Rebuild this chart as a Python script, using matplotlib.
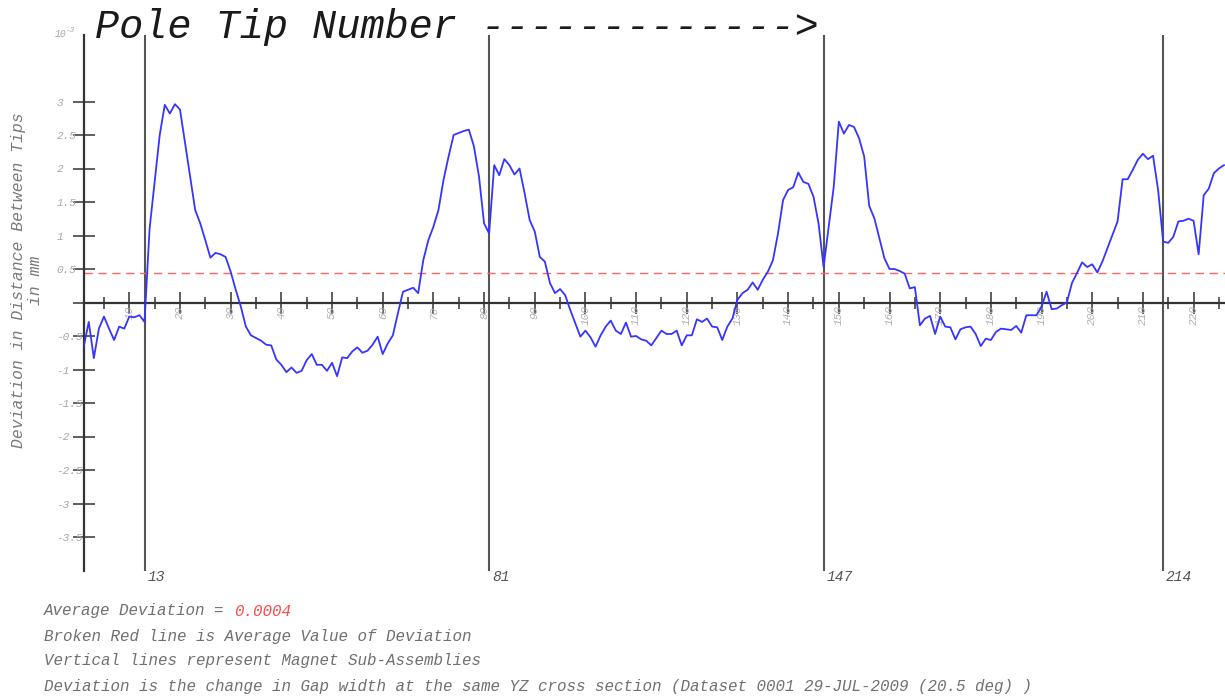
import numpy as np
import matplotlib
matplotlib.use("Agg")
import matplotlib.pyplot as plt
from matplotlib.ticker import MultipleLocator

################################################
## DATA
################################################
pole_tip = np.arange(1, 227)
deviation = [
    -0.66, -0.29, -0.83, -0.39, -0.21, -0.39, -0.56, -0.36, -0.39, -0.21,
    -0.22, -0.19, -0.29, 1.10, 1.80, 2.50, 2.95, 2.82, 2.96, 2.88,
    2.38, 1.88, 1.38, 1.18, 0.93, 0.67, 0.74, 0.72, 0.68, 0.46,
    0.19, -0.06, -0.36, -0.49, -0.53, -0.57, -0.63, -0.64, -0.85, -0.93,
    -1.04, -0.97, -1.05, -1.02, -0.86, -0.77, -0.93, -0.93, -1.02, -0.90,
    -1.10, -0.82, -0.83, -0.73, -0.67, -0.75, -0.72, -0.63, -0.51, -0.77,
    -0.61, -0.49, -0.16, 0.16, 0.19, 0.22, 0.14, 0.63, 0.93, 1.13,
    1.38, 1.83, 2.18, 2.50, 2.53, 2.56, 2.58, 2.33, 1.88, 1.18,
    1.03, 2.05, 1.90, 2.14, 2.05, 1.91, 2.00, 1.63, 1.23, 1.06,
    0.68, 0.61, 0.29, 0.14, 0.20, 0.11, -0.11, -0.31, -0.51, -0.42,
    -0.52, -0.66, -0.49, -0.36, -0.27, -0.42, -0.47, -0.30, -0.51, -0.50,
    -0.55, -0.57, -0.64, -0.53, -0.42, -0.47, -0.47, -0.42, -0.64, -0.49,
    -0.49, -0.25, -0.29, -0.24, -0.36, -0.37, -0.56, -0.36, -0.24, 0.04,
    0.14, 0.19, 0.30, 0.19, 0.34, 0.46, 0.63, 1.03, 1.53, 1.68,
    1.72, 1.94, 1.80, 1.77, 1.58, 1.18, 0.53, 1.13, 1.73, 2.70,
    2.52, 2.65, 2.62, 2.45, 2.18, 1.44, 1.26, 0.96, 0.66, 0.50,
    0.50, 0.47, 0.43, 0.21, 0.23, -0.34, -0.24, -0.20, -0.47, -0.21,
    -0.36, -0.37, -0.55, -0.40, -0.37, -0.36, -0.47, -0.65, -0.54, -0.56,
    -0.44, -0.39, -0.40, -0.41, -0.35, -0.45, -0.19, -0.19, -0.19, -0.06,
    0.16, -0.10, -0.09, -0.04, 0.00, 0.29, 0.44, 0.60, 0.53, 0.57,
    0.45, 0.61, 0.81, 1.01, 1.21, 1.84, 1.84, 1.98, 2.13, 2.22,
    2.14, 2.19, 1.68, 0.91, 0.89, 0.98, 1.21, 1.22, 1.25, 1.22,
    0.72, 1.60, 1.70, 1.93, 2.00, 2.05,
]
avg_line = 0.44
avg_text = "0.0004"
sub_assemblies = [13, 81, 147, 214]
ytick_vals = np.arange(-3.5, 3.01, 0.5)
ytick_labels = ["" if abs(v) < 1e-9 else ("%g" % v) for v in ytick_vals]
xtick_vals = np.arange(10, 221, 10)

notes = [
    "Broken Red line is Average Value of Deviation",
    "Vertical lines represent Magnet Sub-Assemblies",
    "Deviation is the change in Gap width at the same YZ cross section "
    "(Dataset 0001 29-JUL-2009 (20.5 deg) )",
]

################################################
## PLOT
################################################
mono = ["Liberation Mono", "DejaVu Sans Mono"]
W, H = 1225, 700
fig = plt.figure(figsize=(W / 100, H / 100), dpi=100)
ax = fig.add_axes([83.7 / W, 1 - 570.5 / H, 1141.3 / W, 536 / H])

ax.plot(pole_tip, deviation, color="#3535ff", lw=1.3, zorder=3)
ax.axhline(avg_line, color="#ff6464", lw=1.0, dashes=(6, 4), zorder=2)
for v in sub_assemblies:
    ax.axvline(v, color="#555555", lw=1.5, zorder=1)
    ax.text(v + 0.6, -4.1, str(v), fontsize=10.5, family=mono, style="italic",
            color="#555555", ha="left", va="center", clip_on=False)

ax.set_xlim(1, 226.2)
ax.set_ylim(-4, 4)

for s in ["top", "right"]:
    ax.spines[s].set_visible(False)
ax.spines["bottom"].set_position(("data", 0))
ax.spines["bottom"].set_color("#333333")
ax.spines["bottom"].set_linewidth(1.6)
ax.spines["left"].set_color("#333333")
ax.spines["left"].set_linewidth(1.6)

ax.set_xticks(xtick_vals)
ax.set_xticklabels([str(v) for v in xtick_vals], rotation=90, family=mono,
                   style="italic", fontsize=8, color="#b0b0b0")
ax.xaxis.set_minor_locator(MultipleLocator(5))
ax.tick_params(axis="x", which="major", direction="inout", length=16,
               width=1.1, color="#333333", pad=-6)
ax.tick_params(axis="x", which="minor", direction="inout", length=8.6,
               width=1.1, color="#333333")

ax.set_yticks(ytick_vals)
ax.set_yticklabels(ytick_labels, family=mono, style="italic", fontsize=8,
                   color="#a8a8a8", ha="left")
ax.tick_params(axis="y", which="major", direction="inout", length=16.5,
               width=1.1, color="#333333", pad=11.2)

# texts
fig.text(95 / W, 1 - 38 / H, "Pole Tip Number ------------->", family=mono,
         style="italic", fontsize=29, color="#1a1a1a", va="baseline")
fig.text(55 / W, 1 - 34 / H, "10", family=mono, style="italic",
         fontsize=7, color="#a8a8a8", va="center")
fig.text(66 / W, 1 - 30 / H, "-3", family=mono, style="italic",
         fontsize=5.5, color="#a8a8a8", va="center")
fig.text(27 / W, 1 - 280 / H, "Deviation in Distance Between Tips\nin mm",
         family=mono, style="italic", fontsize=11.8, color="#7a7a7a",
         rotation=90, ha="center", va="center", multialignment="center",
         linespacing=1.2)

fs = 11.4
char_w = 0.6 * fs * 100 / 72
fig.text(44 / W, 1 - 611 / H, "Average Deviation = ", family=mono,
         style="italic", fontsize=fs, color="#707070", va="center")
fig.text((44 + 20 * char_w) / W, 1 - 611 / H, avg_text, family=mono,
         style="italic", fontsize=fs, color="#ff4848", va="center")
for i, line in enumerate(notes):
    fig.text(44 / W, 1 - (636 + 25 * i) / H, line, family=mono,
             style="italic", fontsize=fs, color="#707070", va="center")

fig.savefig("out.png", dpi=100)
